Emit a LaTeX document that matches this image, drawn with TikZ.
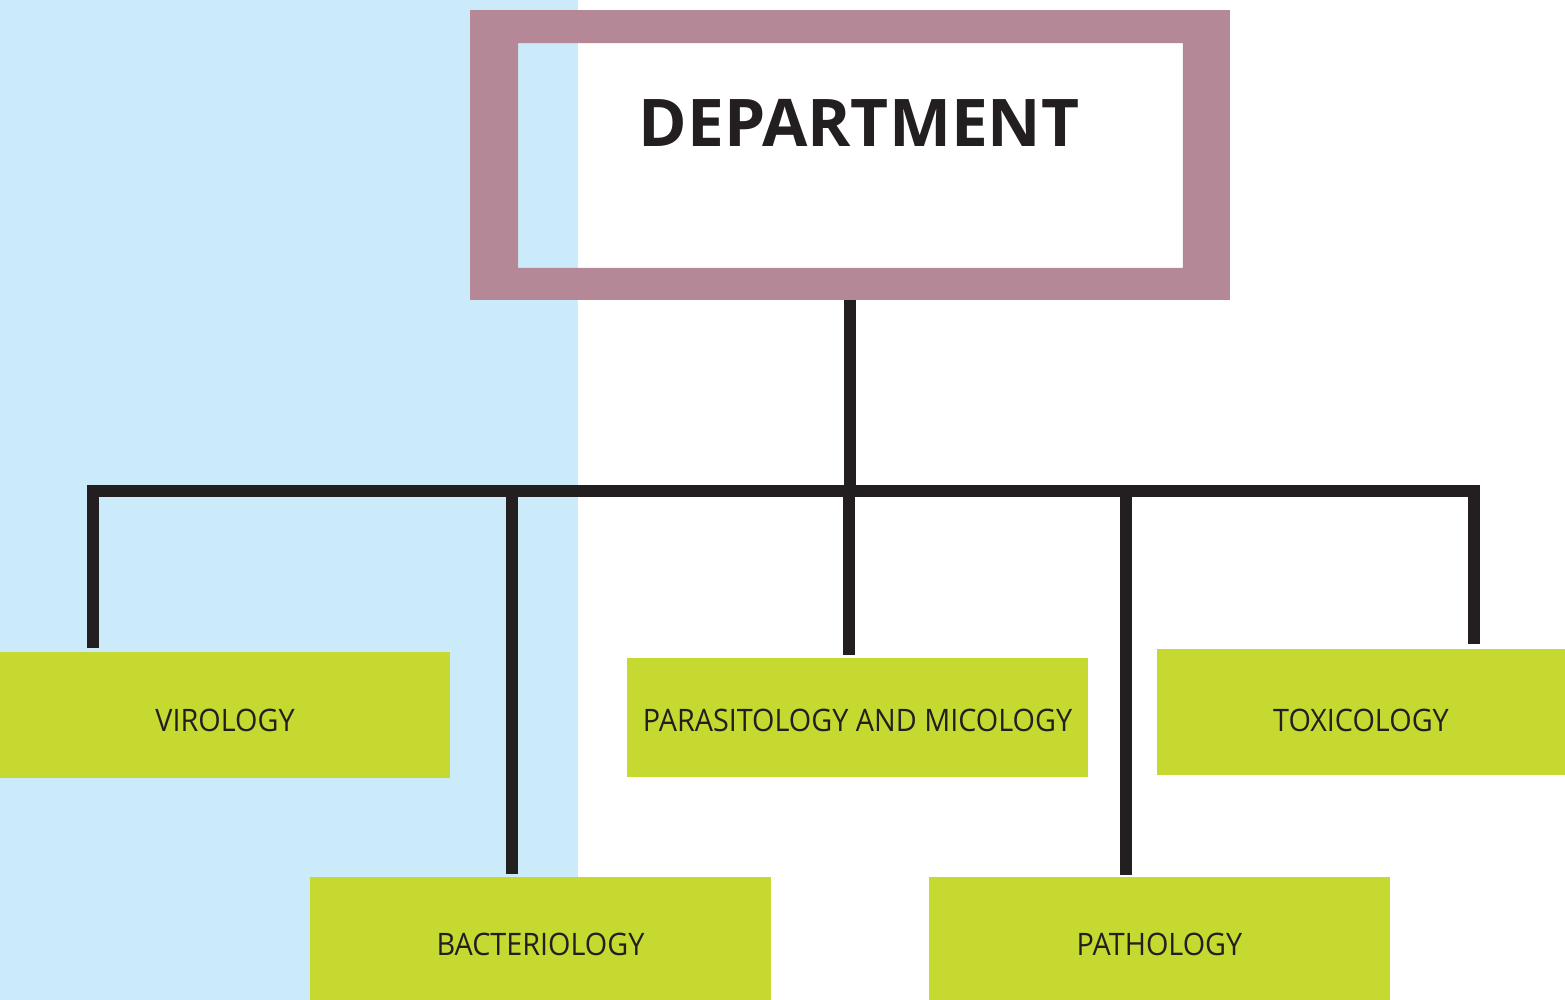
\documentclass[tikz,border=0pt]{standalone}
\usepackage{fontspec}
\setmainfont{Open Sans}[FakeStretch=0.93]
\newfontfamily\headfont{Open Sans}
\usepackage{tikz}
\definecolor{skyback}{HTML}{CBEBFA}
\definecolor{mauve}{HTML}{B48896}
\definecolor{lime}{HTML}{C5D930}
\definecolor{ink}{HTML}{231F20}

\begin{document}
\begin{tikzpicture}[x=0.01cm, y=-0.01cm]
  \tikzstyle{frame} = [rectangle, minimum width=7.58cm, minimum height=2.88cm, inner sep=0pt]
  \tikzstyle{head} = [text=ink, font=\headfont\fontsize{18.7}{20}\selectfont\bfseries, inner sep=0pt]
  \tikzstyle{unit} = [rectangle, fill=lime, text=ink, inner sep=0pt, text centered,
                                    minimum width=4.61cm, minimum height=1.23cm,
                                    text height=0.33cm, text depth=0pt,
                                    font=\fontsize{8.8}{10}\selectfont]
  \tikzstyle{link} = [draw=ink, line width=0.12cm, line join=miter]
\useasboundingbox (0,0) rectangle (1565,1000);
\fill[skyback] (0,0) rectangle (578,1000);
\node[frame](dept) at (850,155){};
\fill[mauve, even odd rule] (dept.north west) rectangle (dept.south east)
  ([shift={(48,33)}]dept.north west) rectangle ([shift={(-47,-32)}]dept.south east);
\node[head](depttext) at (859,123){DEPARTMENT};
\node[unit, minimum width=4.50cm, minimum height=1.26cm, text height=0.32cm](viro) at (225,715){VIROLOGY};
\node[unit](bact) at (540.5,938.5){BACTERIOLOGY};
\node[unit, minimum height=1.19cm, text height=0.27cm](para) at (857.5,717.5){PARASITOLOGY AND MICOLOGY};
\node[unit, minimum width=4.08cm, minimum height=1.26cm, text height=0.38cm](toxi) at (1361,712){TOXICOLOGY};
\node[unit](patho) at (1159.5,938.5){PATHOLOGY};
\coordinate (jv) at (93,491);
\coordinate (jb) at (512,491);
\coordinate (jp) at (849,491);
\coordinate (jpa) at (1126,491);
\coordinate (jt) at (1474,491);
\draw[link] (dept.south) -- (dept.south |- jv);
\draw[link, shorten <=0.03cm, shorten >=0.04cm] (jv |- viro.north) -- (jv) -- (jt) -- (jt |- toxi.north);
\draw[link, shorten >=0.02cm] (jb) -- (jb |- bact.north);
\draw[link, shorten >=0.02cm] (jp) -- (jp |- para.north);
\draw[link, shorten >=0.01cm] (jpa) -- (jpa |- patho.north);
\end{tikzpicture}
\end{document}
